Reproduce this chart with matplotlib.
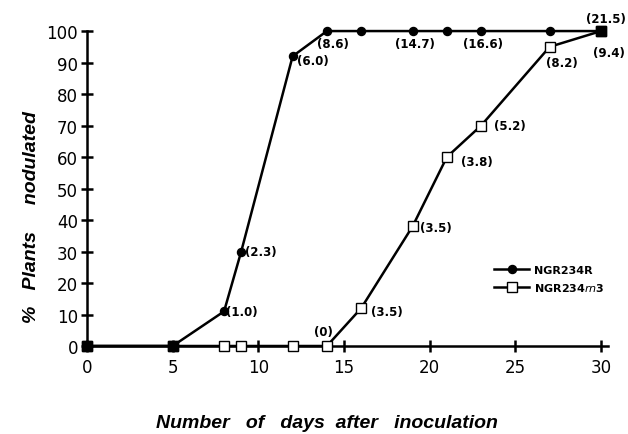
import matplotlib
matplotlib.use("Agg")
import matplotlib.pyplot as plt

plt.rcParams['font.family'] = ['DejaVu Sans']
plt.rcParams['mathtext.fontset'] = 'custom'
plt.rcParams['mathtext.it'] = 'DejaVu Sans:italic'

# days after inoculation and % plants nodulated
days_r = [0, 5, 8, 9, 12, 14, 16, 19, 21, 23, 27, 30]
pct_r = [0, 0, 11, 30, 92, 100, 100, 100, 100, 100, 100, 100]
labels_r = [None, None, '(1.0)', '(2.3)', '(6.0)', '(8.6)', None, '(14.7)', None, '(16.6)', None, '(21.5)']

days_rn3 = [0, 5, 8, 9, 12, 14, 16, 19, 21, 23, 27, 30]
pct_rn3 = [0, 0, 0, 0, 0, 0, 12, 38, 60, 70, 95, 100]
labels_rn3 = [None, None, None, None, None, '(0)', '(3.5)', '(3.5)', '(3.8)', '(5.2)', '(8.2)', '(9.4)']

# label offsets in pixels (styling only)
off_r = [None, None, (18, 0), (20, 0), (20, -4), (6, -12), None, (2, -12), None, (2, -12), None, (5, 13)]
off_rn3 = [None, None, None, None, None, (-3, 14), (26, -3), (23, -1), (30, -4), (29, 0), (12, -16), (8, -21)]

fig = plt.figure(figsize=(6.28, 4.35), dpi=100)
ax = fig.add_axes([0.1385, 0.2023, 0.8296, 0.724])

ax.plot(days_rn3, pct_rn3, color='black', lw=1.8, marker='s', ms=7.5,
        mfc='white', mec='black', mew=1.0, clip_on=False, zorder=3,
        label='NGR234$\\mathit{rn}$3')
ax.plot(days_r, pct_r, color='black', lw=1.8, marker='o', ms=5.8,
        mfc='black', mec='black', clip_on=False, zorder=4,
        label='NGR234R')

# where both strains coincide the symbol is printed solid
both_x = [d for d, a, b in zip(days_r, pct_r, pct_rn3) if a == b]
both_y = [a for a, b in zip(pct_r, pct_rn3) if a == b]
ax.plot(both_x, both_y, ls='none', marker='s', ms=7.5, mfc='black',
        mec='black', clip_on=False, zorder=5)

for xs, ys, labs, offs in [(days_r, pct_r, labels_r, off_r),
                           (days_rn3, pct_rn3, labels_rn3, off_rn3)]:
    for x, y, lab, off in zip(xs, ys, labs, offs):
        if lab is None:
            continue
        ax.annotate(lab, (x, y), xytext=off, textcoords='offset pixels',
                    ha='center', va='center', fontsize=8.5, fontweight='bold',
                    annotation_clip=False)

ax.set_xlim(0, 30.4)
ax.set_ylim(0, 100)
ax.set_xticks(range(0, 31, 5))
ax.set_yticks(range(0, 101, 10))
for s in ['top', 'right']:
    ax.spines[s].set_visible(False)
for s in ['left', 'bottom']:
    ax.spines[s].set_linewidth(1.8)
ax.tick_params(direction='inout', length=9, width=1.8, labelsize=12)
ax.tick_params(axis='y', pad=2)
ax.tick_params(axis='x', pad=4)

ax.set_xlabel('Number   of   days  after   inoculation', fontsize=14,
              family='Liberation Sans', fontweight='bold', fontstyle='italic')
ax.xaxis.set_label_coords(0.46, -0.215)
ax.set_ylabel('%   Plants     nodulated', fontsize=14,
              family='Liberation Sans', fontweight='bold', fontstyle='italic')
ax.yaxis.set_label_coords(-0.09, 0.411)

h, l = ax.get_legend_handles_labels()
ax.legend(h[::-1], l[::-1], loc='center left', bbox_to_anchor=(0.781, 0.213),
          frameon=False, handlelength=3.2, handletextpad=0.4,
          labelspacing=0.55, borderpad=0, borderaxespad=0,
          prop={'weight': 'bold', 'size': 8})

fig.savefig('out.png', dpi=100)
